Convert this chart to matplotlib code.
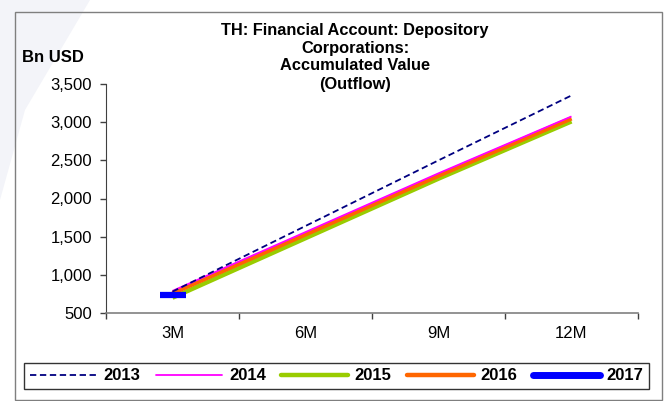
import matplotlib

matplotlib.use("Agg")
import matplotlib.pyplot as plt
from matplotlib.patches import Polygon, Rectangle
from matplotlib.ticker import FuncFormatter

plt.rcParams["font.family"] = ["Liberation Sans", "DejaVu Sans"]

W, H = 669, 401

periods = ["3M", "6M", "9M", "12M"]
years = ["2013", "2014", "2015", "2016", "2017"]
v2013 = [780, 1640, 2500, 3350]
v2014 = [790, 1560, 2330, 3075]
v2015 = [700, 1480, 2260, 3010]
v2016 = [760, 1530, 2300, 3050]
v2017 = [735]
yticks = [500, 1000, 1500, 2000, 2500, 3000, 3500]

styles = {
    "2013": dict(color="#000080", lw=1.3, ls=(0, (3.5, 2))),
    "2014": dict(color="#ff00ff", lw=1.3, ls="-"),
    "2015": dict(color="#99cc00", lw=3.2, ls="-"),
    "2016": dict(color="#ff6600", lw=3.2, ls="-"),
    "2017": dict(color="#0000ff", lw=4.5, ls="-"),
}


def px(x, y):
    # pixel coords (top-left origin) -> figure fraction
    return x / W, 1 - y / H


fig = plt.figure(figsize=(W / 100, H / 100), dpi=100)
fig.patch.set_facecolor("white")

# faint swoosh in the top-left corner
fig.patches.append(Polygon([px(0, 0), px(90, 0), px(25, 110), px(0, 200)], closed=True,
                           transform=fig.transFigure, facecolor="#f3f4f9", edgecolor="none", zorder=0))
# outer chart frame
x0, y0 = px(15, 400)
x1, y1 = px(662, 12)
fig.patches.append(Rectangle((x0, y0), x1 - x0, y1 - y0, transform=fig.transFigure,
                             facecolor="none", edgecolor="#7f7f7f", lw=1.0, zorder=1))

l, b = px(106, 313)
r, t = px(638, 84)
ax = fig.add_axes([l, b, r - l, t - b])
ax.set_facecolor("none")

xs = list(range(len(periods)))
series = [v2013, v2014, v2015, v2016, v2017]
order = ["2015", "2016", "2014", "2013", "2017"]
for yr in order:
    vals = series[years.index(yr)]
    st = styles[yr]
    if len(vals) == 1:
        ax.plot(xs[:1], vals, color=st["color"], marker="_", markersize=19,
                markeredgewidth=st["lw"], ls="none", zorder=6)
    else:
        ax.plot(xs[:len(vals)], vals, color=st["color"], lw=st["lw"], ls=st["ls"],
                solid_capstyle="butt", zorder=3 + order.index(yr) * 0.1)

ax.set_xlim(-0.5, len(periods) - 0.5)
ax.set_ylim(500, 3500)
ax.set_yticks(yticks)
ax.yaxis.set_major_formatter(FuncFormatter(lambda v, p: f"{int(v):,}"))
ax.set_xticks([i - 0.5 for i in range(len(periods) + 1)])
ax.set_xticklabels([])
ax.set_xticks(xs, minor=True)
ax.set_xticklabels(periods, minor=True)
ax.tick_params(axis="x", which="major", direction="out", length=4, width=1, color="#404040")
ax.tick_params(axis="x", which="minor", length=0, pad=9, labelsize=12)
ax.tick_params(axis="y", direction="out", length=4, width=1, color="#404040", labelsize=12, pad=6)
for s in ["top", "right"]:
    ax.spines[s].set_visible(False)
ax.spines["left"].set_color("#404040")
ax.spines["bottom"].set_color("#808080")
ax.spines["bottom"].set_linewidth(1.2)

title_lines = ["TH: Financial Account: Depository", "Corporations:", "Accumulated Value", "(Outflow)"]
for i, line in enumerate(title_lines):
    fig.text(*px(355, 30 + 18 * i), line, ha="center", va="center", fontsize=11.8, fontweight="bold")
fig.text(*px(22, 57), "Bn USD", ha="left", va="center", fontsize=12, fontweight="bold")

handles = []
for yr in years:
    st = styles[yr]
    h, = ax.plot([], [], color=st["color"], lw=st["lw"] if yr != "2017" else 5, ls=st["ls"],
                 solid_capstyle="round")
    handles.append(h)
lx0, ly0 = px(24, 392)
lx1, ly1 = px(649, 360)
leg = fig.legend(handles, years, loc="center", bbox_to_anchor=(lx0, ly0, lx1 - lx0, ly1 - ly0),
                 mode="expand", ncol=5, frameon=True, fancybox=False, borderaxespad=0,
                 handlelength=4.0, handletextpad=0.4, columnspacing=0.6, borderpad=0.35,
                 prop={"weight": "bold", "size": 12})
leg.get_frame().set_edgecolor("black")
leg.get_frame().set_linewidth(1.0)

fig.savefig("out.png", dpi=100)
